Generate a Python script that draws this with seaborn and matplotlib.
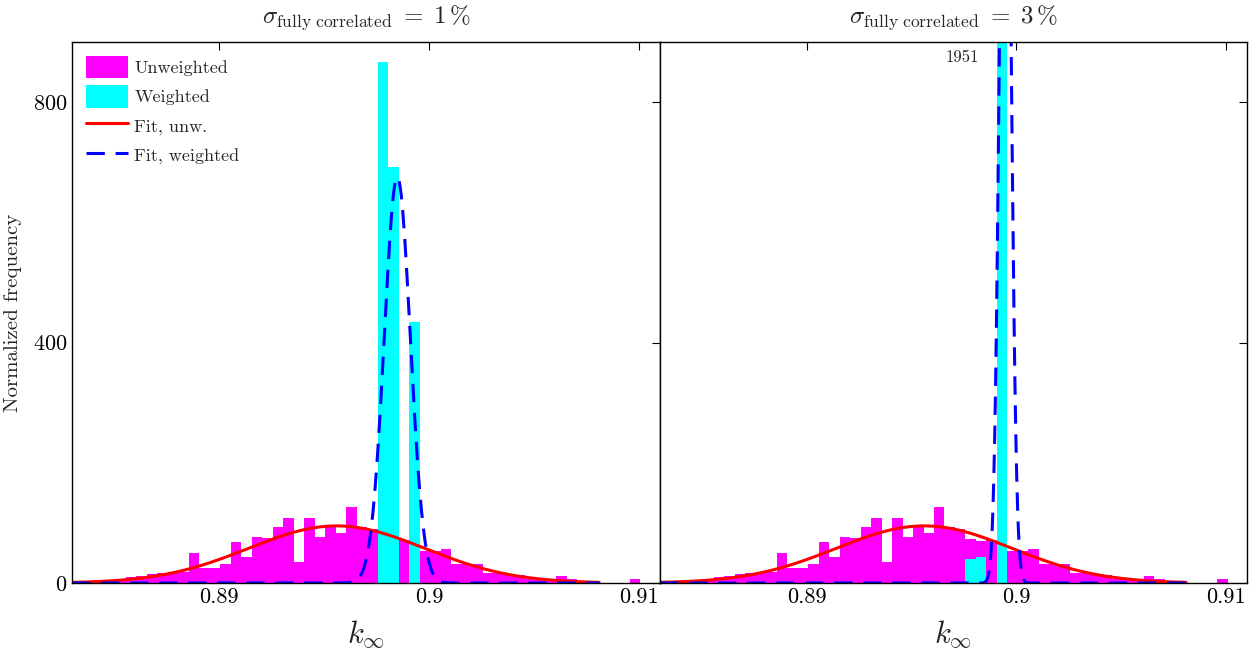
import numpy as np
import pandas as pd
import matplotlib
matplotlib.use("Agg")
import matplotlib.pyplot as plt
import seaborn as sns
from matplotlib.patches import Patch
from matplotlib.lines import Line2D

# ---------------- data ----------------
bin_width = 0.0005
first_edge = 0.88307
# unweighted normalized histogram (magenta), one value per bin
unweighted = [2, 3, 3, 5, 7, 10, 12, 15, 16, 18, 18, 50, 25, 25,
              32, 68, 43, 77, 75, 93, 108, 35, 108, 77, 95, 83, 127, 93, 90,
              73, 70, 72, 65, 53, 53, 56, 32, 32, 32, 17, 17, 13, 13,
              6, 6, 6, 12, 7, 4, 4, 0, 0, 0, 7]
# weighted histogram (cyan): bin indices and heights
weighted_bins = [29, 30, 32]
weighted_left = [867, 692, 435]
weighted_right = [40, 44, 1951]

titles = [r"$\sigma_{\mathrm{fully\ correlated}}\;=\;1\,\%$",
          r"$\sigma_{\mathrm{fully\ correlated}}\;=\;3\,\%$"]

# Gaussian fit parameters (mean, sigma, amplitude)
fit_unw = (0.8956, 0.0042, 95.0)
fit_w_left = (0.89849, 0.00062, 675.0)
fit_w_right = (0.89947, 0.00026, 1600.0)
fit_range = (0.883, 0.9081)

xticks = [0.89, 0.9, 0.91]
xtick_labels = ["0.89", "0.9", "0.91"]
yticks = [0, 400, 800]

# ---------------- style ----------------
sns.set_style("white")
plt.rcParams["font.family"] = ["cmr10", "DejaVu Serif"]
plt.rcParams["mathtext.fontset"] = "cm"
plt.rcParams["axes.formatter.use_mathtext"] = True

n_bins = len(unweighted)
edges = [first_edge + bin_width * i for i in range(n_bins + 1)]
centers = [(edges[i] + edges[i + 1]) / 2 for i in range(n_bins)]

df_unw = pd.DataFrame({"k": centers, "h": unweighted})

fig = plt.figure(figsize=(12.57, 6.59), dpi=100)
ax1 = fig.add_axes([72 / 1257, 76 / 659, 588 / 1257, 541 / 659])
ax2 = fig.add_axes([660 / 1257, 76 / 659, 587 / 1257, 541 / 659])

xs = np.linspace(fit_range[0], fit_range[1], 600)


def gauss(p):
    mu, s, a = p
    return a * np.exp(-(xs - mu) ** 2 / (2 * s ** 2))


for ax, wvals, fitw, title in [(ax1, weighted_left, fit_w_left, titles[0]),
                               (ax2, weighted_right, fit_w_right, titles[1])]:
    sns.histplot(data=df_unw, x="k", weights="h", bins=edges, stat="count",
                 color="#ff00ff", alpha=1, linewidth=0, ax=ax)
    wc = [centers[i] for i in weighted_bins]
    df_w = pd.DataFrame({"k": wc, "h": wvals})
    sns.histplot(data=df_w, x="k", weights="h", bins=edges, stat="count",
                 color="#00ffff", alpha=1, linewidth=0, ax=ax)
    sns.lineplot(x=xs, y=gauss(fit_unw), color="#ff0000", lw=2.2, ax=ax)
    sns.lineplot(x=xs, y=gauss(fitw), color="#0000ff", lw=2.2, ax=ax)
    ax.lines[-1].set_dashes([6, 3.5])
    ax.set_xlim(0.883, 0.911)
    ax.set_ylim(0, 900)
    ax.set_xticks(xticks)
    ax.set_xticklabels(xtick_labels)
    ax.set_yticks(yticks)
    ax.tick_params(direction="in", top=True, right=True, length=6, width=0.8,
                   labelsize=16, colors="black")
    ax.set_xlabel(r"$k_\infty$", fontsize=22, labelpad=8)
    ax.set_ylabel("")
    ax.set_title(title, fontsize=18, pad=14)
    for sp in ax.spines.values():
        sp.set_color("black")
        sp.set_linewidth(1.0)
    ax.set_facecolor("white")

ax1.set_ylabel("Normalized frequency", fontsize=15, labelpad=8)
ax2.tick_params(labelleft=False)

ax2.text(0.8974, 875, "1951", fontsize=12, ha="center", va="center")

handles = [Patch(facecolor="#ff00ff", edgecolor="none"),
           Patch(facecolor="#00ffff", edgecolor="none"),
           Line2D([], [], color="#ff0000", lw=2.2),
           Line2D([], [], color="#0000ff", lw=2.2, dashes=[6, 3.5])]
labels = ["Unweighted", "Weighted", "Fit, unw.", "Fit, weighted"]
ax1.legend(handles, labels, loc="upper left", frameon=False, fontsize=13,
           handlelength=2.35, handleheight=1.55, labelspacing=0.38,
           handletextpad=0.35, borderaxespad=0.4, borderpad=0.35)

fig.savefig("out.png", dpi=100, facecolor="white")
